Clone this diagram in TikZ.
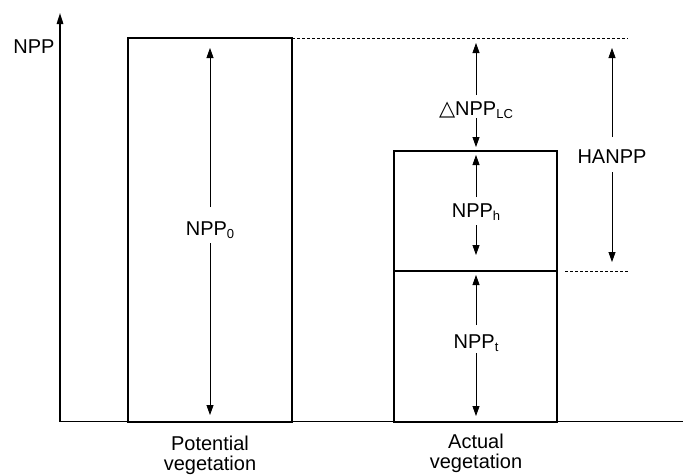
\documentclass[tikz,border=0pt]{standalone}
\usepackage{fontspec}
\setmainfont{Liberation Sans}
\newfontfamily\dvs{DejaVu Sans}
\usetikzlibrary{arrows.meta}
\newcommand\lowsub[1]{\raisebox{-3.5pt}{\fontsize{13}{13}\selectfont #1}}
\begin{document}
\begin{tikzpicture}[x=1pt,y=-1pt,
  every node/.style={font=\fontsize{20}{20}\selectfont, inner sep=0pt, outer sep=0pt},
  boxline/.style={draw, line width=2pt},
  axisline/.style={line width=1.5pt},
  arr/.style={line width=0.8pt, -{Triangle[length=10pt,width=7pt]}},
  guide/.style={line width=0.9pt, dash pattern=on 3pt off 2pt},
  lab/.style={anchor=base}]
\useasboundingbox (0,0) rectangle (683,475);

% axes
\coordinate (O) at (60,421.5);
\coordinate (ytop) at (60,13);
\coordinate (xend) at (683,421.5);
\draw[axisline, -{Triangle[length=11pt,width=6.5pt]}] (O) -- (ytop);
\draw[axisline] (O) -- (xend);
\node[lab] (npp) at (34,53) {NPP};

% bars
\node[boxline, anchor=south west, minimum width=164pt, minimum height=383.5pt] (pot) at (128,421.5) {};
\node[boxline, anchor=south west, minimum width=163pt, minimum height=150.5pt] (actt) at (394,421.5) {};
\node[boxline, anchor=south west, minimum width=163pt, minimum height=120pt] (acth) at (394,271) {};

% dashed guides
\coordinate (g1) at (628,38);
\coordinate (g2a) at (565,271);
\coordinate (g2b) at (628,271);
\draw[guide] (pot.north east) -- (g1);
\draw[guide] (g2a) -- (g2b);

% NPP_0
\node[lab, text height=28pt, text depth=8pt] (n0) at (210,235) {NPP\lowsub{0}};
\coordinate (n0t) at (210,48);
\coordinate (n0b) at (210,415);
\draw[arr] (n0.north) -- (n0t);
\draw[arr] (n0.south) -- (n0b);

% Delta NPP_LC
\node[lab, text height=20pt, text depth=3pt] (dlc) at (476,115) {{\dvs\fontsize{21}{21}\selectfont △}NPP\lowsub{LC}};
\coordinate (dlct) at (476,43);
\coordinate (dlcb) at (476,147);
\draw[arr] (dlc.north) -- (dlct);
\draw[arr] (dlc.south) -- (dlcb);

% NPP_h
\node[lab, text height=20pt, text depth=8pt] (nh) at (476,217) {NPP\lowsub{h}};
\coordinate (nht) at (476,155);
\coordinate (nhb) at (476,255);
\draw[arr] (nh.north) -- (nht);
\draw[arr] (nh.south) -- (nhb);

% NPP_t
\node[lab, text height=23pt, text depth=5pt] (nt) at (476,348) {NPP\lowsub{t}};
\coordinate (ntt) at (476,275);
\coordinate (ntb) at (476,416);
\draw[arr] (nt.north) -- (ntt);
\draw[arr] (nt.south) -- (ntb);

% HANPP
\node[lab, text height=26pt, text depth=9pt] (ha) at (612,163) {HANPP};
\coordinate (hat) at (612,48);
\coordinate (hab) at (612,262);
\draw[arr] (ha.north) -- (hat);
\draw[arr] (ha.south) -- (hab);

% category labels
\node[anchor=north, align=center] (potlab) at (210,435.7) {Potential\\vegetation};
\node[anchor=north, align=center] (actlab) at (476,434) {Actual\\vegetation};
\end{tikzpicture}
\end{document}
